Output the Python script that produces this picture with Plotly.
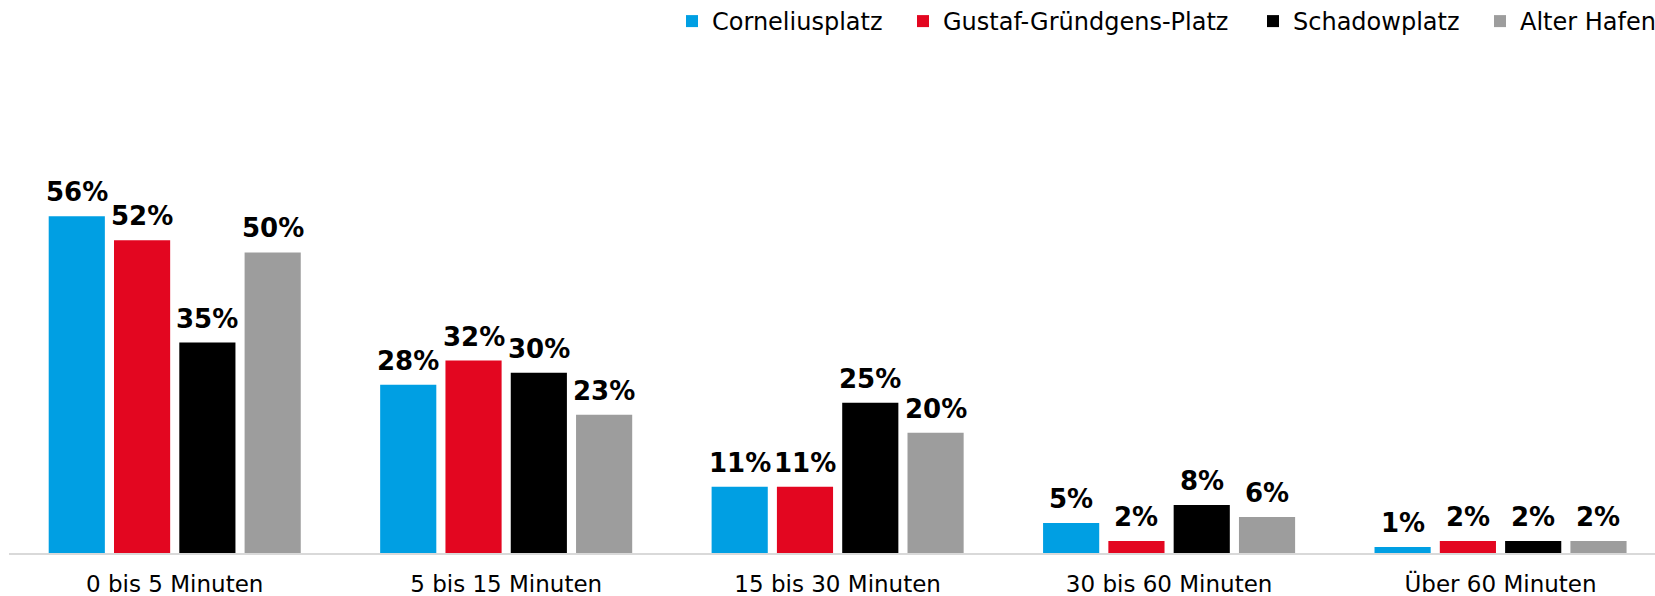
import plotly.graph_objects as go

categories = ["0 bis 5 Minuten", "5 bis 15 Minuten", "15 bis 30 Minuten", "30 bis 60 Minuten", "Über 60 Minuten"]
series_names = ["Corneliusplatz", "Gustaf-Gründgens-Platz", "Schadowplatz", "Alter Hafen"]
corneliusplatz = [56, 28, 11, 5, 1]
gustaf_gruendgens = [52, 32, 11, 2, 2]
schadowplatz = [35, 30, 25, 8, 2]
alter_hafen = [50, 23, 20, 6, 2]
colors = ["#009FE3", "#E30620", "#000000", "#9D9D9D"]

series_values = [corneliusplatz, gustaf_gruendgens, schadowplatz, alter_hafen]
FONT = "DejaVu Sans"
W, H = 1655, 596
BARGAP = 0.212
N = len(series_names)
slot = (1 - BARGAP) / N

# legend entry left positions (px), one legend per series
legend_px = [672, 903, 1253, 1480]
legend_ids = ["legend", "legend2", "legend3", "legend4"]

fig = go.Figure()
annotations = []
for i, (name, vals, col) in enumerate(zip(series_names, series_values, colors)):
    fig.add_trace(go.Bar(
        x=list(range(len(categories))), y=vals, name=name,
        marker=dict(color=col, line=dict(width=0)),
        cliponaxis=False, legend=legend_ids[i],
    ))
    off = (i - (N - 1) / 2) * slot
    for k, v in enumerate(vals):
        annotations.append(dict(
            x=k + off, y=v, xref="x", yref="y",
            text=f"<b>{v}%</b>", showarrow=False,
            xanchor="center", yanchor="bottom", yshift=7,
            font=dict(family=FONT, size=26, color="#000000"),
        ))

legend_layout = {}
for lid, px in zip(legend_ids, legend_px):
    legend_layout[lid] = dict(
        orientation="h", x=px / W, xanchor="left", y=1 - 21.5 / H, yanchor="middle",
        yref="container", xref="container",
        font=dict(family=FONT, size=24, color="#000000"),
        itemwidth=30, bgcolor="rgba(0,0,0,0)",
    )

fig.update_layout(
    width=W, height=H,
    margin=dict(l=9, r=0, t=60, b=43),
    paper_bgcolor="white", plot_bgcolor="white",
    barmode="group", bargap=BARGAP, bargroupgap=0.14,
    font=dict(family=FONT, color="#000000"),
    showlegend=True,
    annotations=annotations,
    xaxis=dict(
        range=[-0.5, 4.466], showline=True, linecolor="#D9D9D9", linewidth=2,
        showgrid=False, zeroline=False, ticks="",
        tickmode="array", tickvals=list(range(len(categories))), ticktext=categories,
        tickfont=dict(family=FONT, size=23, color="#000000"),
        automargin=False, ticklabelstandoff=9,
    ),
    yaxis=dict(range=[0, 82], visible=False, showgrid=False, zeroline=False),
    **legend_layout,
)

fig.write_html("out.html", config={"displayModeBar": False},
               post_script="document.body.style.margin='0';")
